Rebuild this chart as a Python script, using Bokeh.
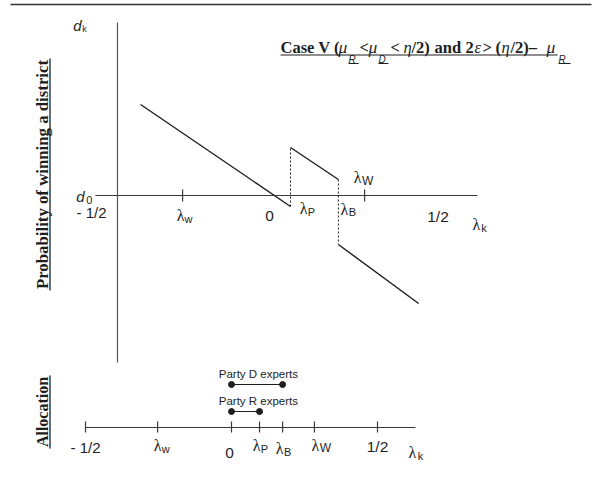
import math
from bokeh.plotting import figure
from bokeh.models import Range1d
from bokeh.core.properties import value
from bokeh.embed import file_html
from bokeh.resources import INLINE

# ---------------- data (schematic values) ----------------
# upper panel: probability of winning a district d_k against lambda_k
main_tick_lams = [-0.294, 0.0475, 0.199, 0.282]   # lambda_w, lambda_P, lambda_B, lambda_W
main_axis_lam = [-0.57, 0.639]
main_axis_d = [-1.67, 1.73]

seg_lam_start = [-0.427, 0.0475, 0.199]
seg_lam_end = [0.0475, 0.199, 0.453]
seg_d_start = [0.91, 0.48, -0.49]
seg_d_end = [-0.11, 0.16, -1.08]

jump_lam = [0.0475, 0.199]
jump_d_from = [-0.11, 0.16]
jump_d_to = [0.48, -0.49]

# lower panel: allocation of experts
alloc_tick_lams = [-0.5, -0.253, 0.0, 0.096, 0.175, 0.284, 0.5]
alloc_axis_lam = [-0.5, 0.63]
expert_groups = ["Party D experts", "Party R experts"]
expert_lo = [0.0, 0.0]
expert_hi = [0.175, 0.096]

# ---------------- figure ----------------
W, H = 592, 464
# main scale: x = 275 + 316*lam ; y = 195 - 100*d
MX0, MXS = 275.0, 316.0
MY0, MYS = 195.0, 100.0
AX0, AXS = 231.0, 292.0
AY0 = 427.0

p = figure(width=W, height=H, output_backend="svg", toolbar_location=None,
           x_range=Range1d(-MX0 / MXS, (W - MX0) / MXS),
           y_range=Range1d((MY0 - H) / MYS, MY0 / MYS),
           x_axis_location=None, y_axis_location=None, min_border=0)
p.grid.visible = False
p.outline_line_color = None
p.background_fill_color = "white"
p.border_fill_color = "white"
p.extra_x_ranges = {"ax": Range1d(-AX0 / AXS, (W - AX0) / AXS), "px": Range1d(0, W)}
# alloc y: value v = pixels above the allocation axis
p.extra_y_ranges = {"ay": Range1d(AY0 - H, AY0), "py": Range1d(H, 0)}

INK = "#1e1e1e"
AXC = "#3a3a3a"
SANS = "Liberation Sans"
SERIF = "Liberation Serif"


def txt(x, y, s, font=SANS, size=15, style="normal", align="center",
        baseline="middle", angle=0.0, xr="default", yr="default"):
    p.text(x=[x], y=[y], text=[s], text_font=value(font),
           text_font_size=f"{size}px", text_font_style=style,
           text_align=align, text_baseline=baseline, angle=angle,
           text_color=INK, x_range_name=xr, y_range_name=yr)


# ---- main panel axes ----
p.segment(x0=[main_axis_lam[0]], y0=[0], x1=[main_axis_lam[1]], y1=[0],
          line_color=AXC, line_width=1.2)
p.segment(x0=[-0.5], y0=[main_axis_d[0]], x1=[-0.5], y1=[main_axis_d[1]],
          line_color="#555555", line_width=1.2)
tick_d = 6 / MYS
mt = [main_tick_lams[0], main_tick_lams[3]]
p.segment(x0=mt, y0=[-tick_d] * 2, x1=mt, y1=[tick_d] * 2,
          line_color=AXC, line_width=1.2)

# ---- main panel curves ----
p.segment(x0=seg_lam_start, y0=seg_d_start, x1=seg_lam_end, y1=seg_d_end,
          line_color=INK, line_width=1.4)
p.segment(x0=jump_lam, y0=jump_d_from, x1=jump_lam, y1=jump_d_to,
          line_color=INK, line_width=1.0, line_dash="2 2")


def mlabel(lam, d, dx, dy, base, sub=None, sdx=0, sdy=0, bfont=SERIF,
           bsize=16, bstyle="normal", ssize=11):
    x = lam + dx / MXS
    y = d - dy / MYS
    txt(x, y, base, font=bfont, size=bsize, style=bstyle)
    if sub is not None:
        txt(x + sdx / MXS, y - sdy / MYS, sub, font=SANS, size=ssize)


lam_w, lam_P, lam_B, lam_W = main_tick_lams
mlabel(-0.5, 0, -26, 17, "- 1/2", bfont=SANS, bsize=15)
mlabel(lam_w, 0, -2, 20, "λ", "w", 8, 3)
mlabel(0.0, 0, -6, 20, "0", bfont=SANS, bsize=15.5)
mlabel(lam_P, 0, 13, 13, "λ", "P", 8, 3)
mlabel(lam_B, 0, 6, 13.5, "λ", "B", 8, 3)
mlabel(lam_W, 0, -7, -18, "λ", "W", 10, 3, ssize=12)
mlabel(0.5, 0, 4.5, 21, "1/2", bfont=SANS, bsize=15.5)
mlabel(main_axis_lam[1], 0, -1, 29, "λ", "k", 7.5, 3.5)
mlabel(-0.5, main_axis_d[1], -40, 3, "d", "k", 7, 3, bfont=SANS, bsize=15, bstyle="italic", ssize=9)
mlabel(main_axis_lam[0], 0, -15, 1, "d", "0", 9, 3, bfont=SANS, bsize=15, bstyle="italic", ssize=11)

# ---- allocation panel ----
p.segment(x0=[alloc_axis_lam[0]], y0=[0], x1=[alloc_axis_lam[1]], y1=[0],
          line_color=AXC, line_width=1.2, x_range_name="ax", y_range_name="ay")
p.segment(x0=alloc_tick_lams, y0=[-5] * len(alloc_tick_lams),
          x1=alloc_tick_lams, y1=[6] * len(alloc_tick_lams),
          line_color=AXC, line_width=1.2, x_range_name="ax", y_range_name="ay")

row_v = [43, 16]
label_lam = 0.092
p.segment(x0=expert_lo, y0=row_v, x1=expert_hi, y1=row_v, line_color=INK,
          line_width=1.2, x_range_name="ax", y_range_name="ay")
p.scatter(x=expert_lo + expert_hi, y=row_v + row_v, size=6, color=INK,
          x_range_name="ax", y_range_name="ay")
for name, v in zip(expert_groups, row_v):
    txt(label_lam, v + 11, name, size=11.5, xr="ax", yr="ay")


def alabel(lam, dx, dy, base, sub=None, sdx=8, sdy=3, bfont=SERIF, bsize=16, ssize=11):
    x = lam + dx / AXS
    y = -dy
    txt(x, y, base, font=bfont, size=bsize, xr="ax", yr="ay")
    if sub is not None:
        txt(x + sdx / AXS, y - sdy, sub, font=SANS, size=ssize, xr="ax", yr="ay")


t = alloc_tick_lams
alabel(t[0], 0, 20, "- 1/2", bfont=SANS, bsize=15)
alabel(t[1], 0, 18, "λ", "w")
alabel(t[2], -2, 25, "0", bfont=SANS, bsize=15.5)
alabel(t[3], -3, 18, "λ", "P")
alabel(t[4], -3, 21, "λ", "B")
alabel(t[5], 1, 17.5, "λ", "W", sdx=10, ssize=12)
alabel(t[6], 0, 19, "1/2", bfont=SANS, bsize=15.5)
alabel(alloc_axis_lam[1], -3, 25, "λ", "k", sdx=8)

# ---- rotated axis titles (page coordinates) ----
txt(41.5, 174, "Probability of winning a district", font=SERIF, size=16.8,
    style="bold", angle=math.pi / 2, xr="px", yr="py")
p.segment(x0=[49.5], y0=[58], x1=[49.5], y1=[290], line_color=INK,
          line_width=1.3, x_range_name="px", y_range_name="py")
txt(41.5, 411.5, "Allocation", font=SERIF, size=16, style="bold",
    angle=math.pi / 2, xr="px", yr="py")
p.segment(x0=[49.5], y0=[375], x1=[49.5], y1=[448], line_color=INK,
          line_width=1.3, x_range_name="px", y_range_name="py")

# ---- title (page coordinates) ----
TM = 46.8   # middle line of the main title text
SM = 58.5   # middle line of the subscripts
TS = 16.5
pieces = [
    ("Case V (", 280, SERIF, "bold", TS, TM),
    ("μ", 338, SERIF, "italic", TS + 1, TM),
    ("R", 348, SANS, "italic", 10, SM),
    ("<", 359, SERIF, "bold", TS, TM),
    ("μ", 368, SERIF, "italic", TS + 1, TM),
    ("D", 378, SANS, "italic", 10, SM),
    ("<", 390, SERIF, "bold", TS, TM),
    ("η", 403, SERIF, "italic", TS, TM),
    ("/2)", 411, SERIF, "bold", TS, TM),
    ("and", 434, SERIF, "bold", TS, TM),
    ("2", 465, SERIF, "bold", TS, TM),
    ("ε", 474, SERIF, "italic", TS, TM),
    (">", 482, SERIF, "bold", TS, TM),
    ("(", 495, SERIF, "bold", TS, TM),
    ("η", 501, SERIF, "italic", TS, TM),
    ("/2)–", 510, SERIF, "bold", TS, TM),
    ("μ", 546, SERIF, "italic", TS + 1, TM),
    ("R", 558, SANS, "italic", 10, SM),
]
for s, x, f, st, sz, y in pieces:
    txt(x, y, s, font=f, size=sz, style=st, align="left", xr="px", yr="py")
p.segment(x0=[280, 348, 378, 558], y0=[54.5, 63, 63, 63],
          x1=[557, 358, 388, 570], y1=[54.5, 63, 63, 63], line_color=INK,
          line_width=1.1, x_range_name="px", y_range_name="py")

# ---- top rule ----
p.segment(x0=[10], y0=[4], x1=[591], y1=[4], line_color="#333333",
          line_width=1.6, x_range_name="px", y_range_name="py")

open("out.html", "w").write(file_html(p, INLINE))
